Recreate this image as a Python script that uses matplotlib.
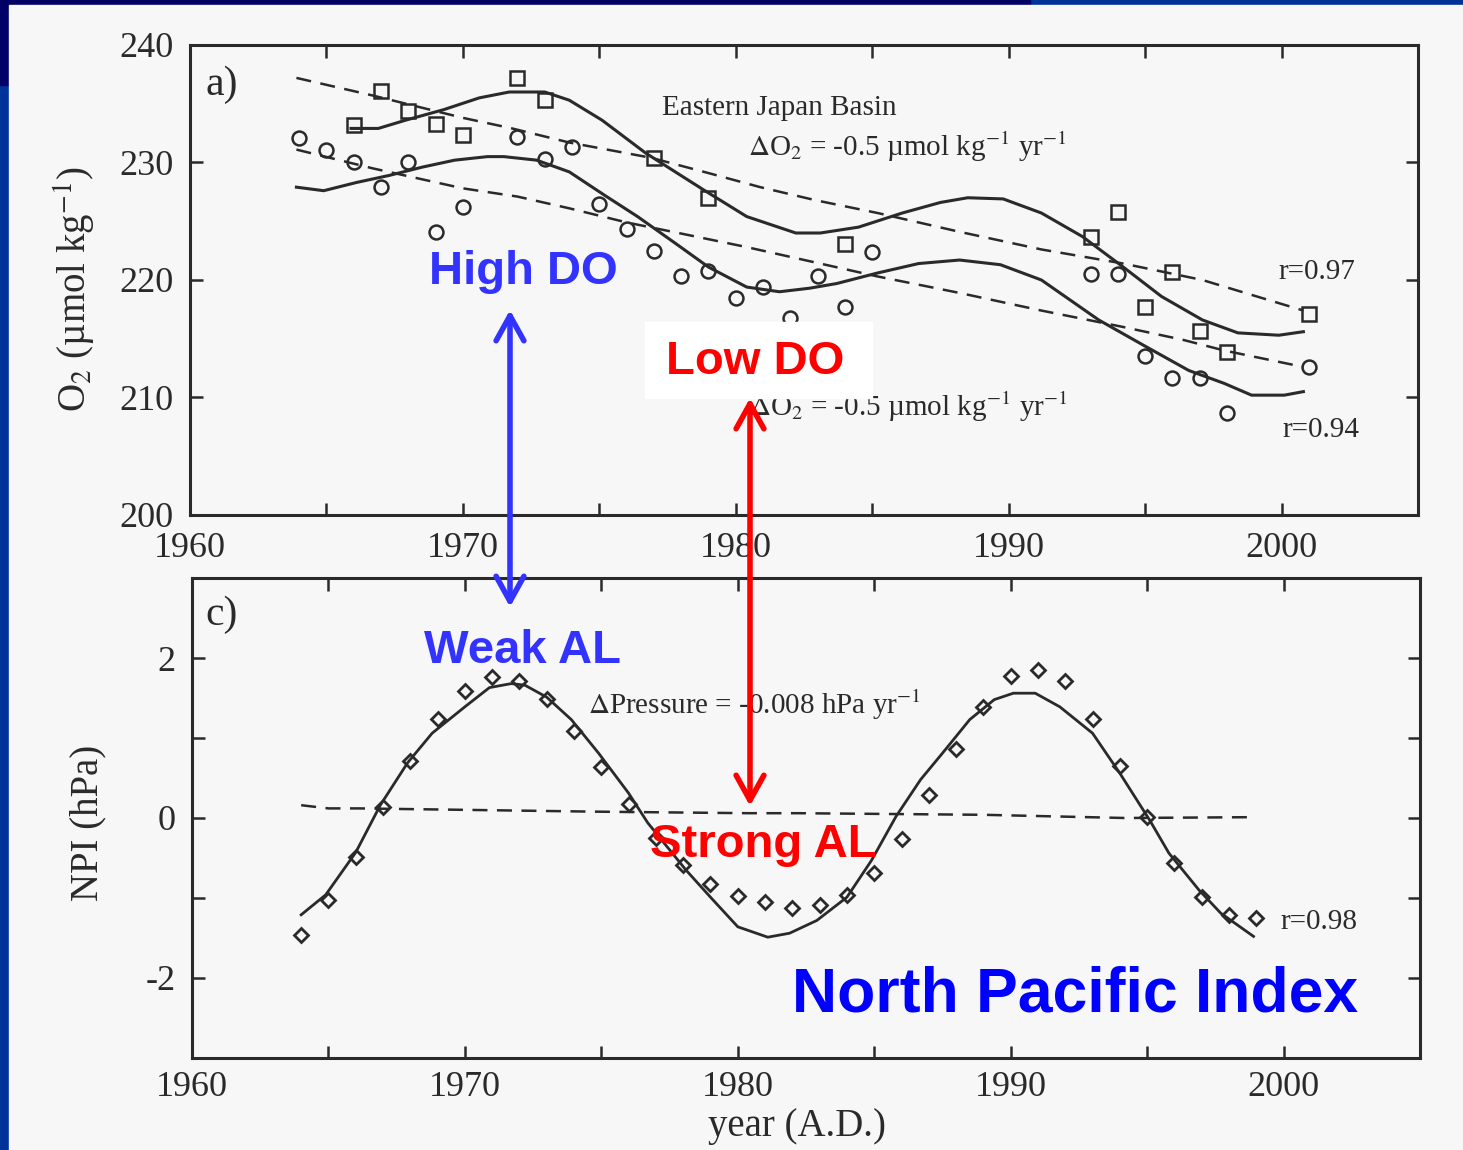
import matplotlib
matplotlib.use("Agg")
from matplotlib import pyplot as plt
from matplotlib.patches import Rectangle, FancyArrowPatch

W, H = 1463, 1150
INK = "#2a2a2a"
PAPER = "#f7f7f7"

# panel a) Eastern Japan Basin O2 (umol/kg)
sq_years = [1966, 1967, 1968, 1969, 1970, 1972, 1973, 1977, 1979, 1984,
            1993, 1994, 1995, 1996, 1997, 1998, 2001]
sq_o2 = [233.2, 236.1, 234.4, 233.3, 232.3, 237.2, 235.3, 230.4, 227.0, 223.1,
         223.7, 225.8, 217.7, 220.7, 215.7, 213.9, 217.1]

ci_years = [1964, 1965, 1966, 1967, 1968, 1969, 1970, 1972, 1973, 1974, 1975,
            1976, 1977, 1978, 1979, 1980, 1981, 1982, 1983, 1984, 1985, 1993,
            1994, 1995, 1996, 1997, 1998, 2001]
ci_o2 = [232.1, 231.1, 230.0, 227.9, 230.0, 224.1, 226.2, 232.2, 230.3, 231.3,
         226.5, 224.3, 222.5, 220.3, 220.8, 218.5, 219.4, 216.8, 220.3, 217.7,
         222.4, 220.5, 220.5, 213.5, 211.7, 211.7, 208.7, 212.6]

up_fit_x = [1965.9, 1966.9, 1967.9, 1969.3, 1970.6, 1971.7, 1973.0, 1973.9,
            1975.1, 1976.7, 1978.8, 1980.4, 1982.2, 1983.1, 1984.5, 1986.1,
            1987.5, 1988.5, 1989.8, 1991.2, 1992.7, 1994.2, 1995.6, 1997.1,
            1998.4, 1999.9, 2000.8]
up_fit_y = [232.9, 232.9, 233.6, 234.5, 235.5, 236.0, 236.0, 235.3, 233.6,
            230.8, 227.7, 225.4, 224.0, 224.0, 224.5, 225.7, 226.6, 227.0,
            226.9, 225.7, 223.7, 221.1, 218.6, 216.6, 215.5, 215.3, 215.6]

lo_fit_x = [1963.9, 1964.9, 1966.1, 1967.3, 1968.5, 1969.7, 1970.9, 1971.5,
            1972.7, 1973.9, 1975.2, 1976.4, 1977.8, 1979.0, 1980.4, 1981.6,
            1982.7, 1983.7, 1985.2, 1986.7, 1988.2, 1989.7, 1991.2, 1993.3,
            1994.9, 1996.6, 1997.9, 1998.9, 2000.1, 2000.8]
lo_fit_y = [227.9, 227.6, 228.3, 228.9, 229.6, 230.2, 230.5, 230.5, 230.2,
            229.2, 227.2, 225.4, 223.1, 221.1, 219.4, 219.0, 219.3, 219.7,
            220.6, 221.4, 221.7, 221.3, 220.0, 216.6, 214.5, 212.3, 211.2,
            210.2, 210.2, 210.5]

up_trend_x = [1963.9, 1966.7, 1970.0, 1971.8, 1973.9, 1976.9, 1979.0, 1980.9,
              1982.9, 1985.2, 1988.2, 1991.2, 1994.2, 1997.1, 2000.8]
up_trend_y = [237.2, 235.7, 233.8, 232.9, 231.7, 230.4, 229.1, 227.9, 226.8,
              225.7, 224.1, 222.6, 221.4, 220.0, 217.4]

lo_trend_x = [1963.9, 1966.7, 1970.0, 1972.0, 1973.9, 1976.0, 1977.9, 1980.4,
              1982.9, 1985.2, 1988.2, 1991.2, 1994.2, 1996.4, 1997.9, 2000.8]
lo_trend_y = [231.1, 229.5, 227.8, 227.1, 226.1, 224.9, 224.0, 222.8, 221.5,
              220.3, 218.9, 217.4, 216.0, 214.9, 214.0, 212.6]

# panel c) North Pacific Index (hPa)
npi_years = list(range(1964, 2000))
npi = [-1.46, -1.03, -0.49, 0.14, 0.71, 1.24, 1.59, 1.76, 1.71, 1.49, 1.09,
       0.64, 0.18, -0.25, -0.59, -0.83, -0.98, -1.05, -1.13, -1.09, -0.96,
       -0.69, -0.26, 0.29, 0.86, 1.39, 1.78, 1.85, 1.71, 1.24, 0.65, 0.01,
       -0.56, -0.99, -1.21, -1.25]

npi_fit_x = [1964.0, 1964.9, 1966.0, 1966.9, 1967.9, 1968.8, 1970.0, 1970.9,
             1971.7, 1972.2, 1973.0, 1973.9, 1974.9, 1976.0, 1976.7, 1978.1,
             1979.0, 1980.0, 1981.1, 1981.9, 1982.9, 1984.0, 1984.9, 1985.8,
             1986.7, 1987.5, 1988.5, 1989.4, 1990.1, 1990.9, 1991.8, 1993.0,
             1994.0, 1995.1, 1995.8, 1996.9, 1997.7, 1998.9]
npi_fit_y = [-1.21, -0.96, -0.43, 0.16, 0.69, 1.06, 1.39, 1.63, 1.68, 1.66,
             1.51, 1.23, 0.81, 0.31, -0.06, -0.65, -0.99, -1.36, -1.49, -1.44,
             -1.28, -0.99, -0.53, 0.02, 0.48, 0.81, 1.23, 1.48, 1.56, 1.56,
             1.39, 1.06, 0.56, -0.03, -0.44, -0.90, -1.19, -1.48]

npi_trend_x = [1964.0, 1965.0, 1966.1, 1970.4, 1974.6, 1980.4, 1982.2, 1989.0,
               1994.2, 1998.7]
npi_trend_y = [0.16, 0.12, 0.12, 0.10, 0.08, 0.06, 0.06, 0.04, 0.0, 0.01]

year_ticks = list(range(1960, 2006, 5))
year_labels = [str(y) if y % 10 == 0 else "" for y in year_ticks]

plt.rcParams["font.family"] = ["Liberation Serif", "DejaVu Serif"]
plt.rcParams["mathtext.fontset"] = "stix"

fig = plt.figure(figsize=(W / 100, H / 100), dpi=100)
fig.patch.set_facecolor("#003399")


def px(x, y):
    return x / W, 1 - y / H


# slide frame
fig.add_artist(Rectangle((0, 1 - 5 / H), 1030 / W, 5 / H, transform=fig.transFigure,
                         color="#000066", zorder=-3))
fig.add_artist(Rectangle((0, 1 - 85 / H), 9 / W, 85 / H, transform=fig.transFigure,
                         color="#000066", zorder=-3))
fig.add_artist(Rectangle(px(9, H), (W - 9) / W, (H - 5) / H, transform=fig.transFigure,
                         color=PAPER, zorder=-2))

ax1 = fig.add_axes([190 / W, 1 - 515 / H, 1228 / W, 470 / H])
ax2 = fig.add_axes([192 / W, 1 - 1058 / H, 1228 / W, 480 / H])

dash = (0, (6, 3.8))
mk = dict(linestyle="none", mfc="none", mec=INK, ms=10, mew=1.8)

ax1.plot(up_trend_x, up_trend_y, color=INK, lw=1.8, linestyle=dash)
ax1.plot(lo_trend_x, lo_trend_y, color=INK, lw=1.8, linestyle=dash)
ax1.plot(up_fit_x, up_fit_y, color=INK, lw=2.2)
ax1.plot(lo_fit_x, lo_fit_y, color=INK, lw=2.2)
ax1.plot(sq_years, sq_o2, marker="s", **mk)
ax1.plot(ci_years, ci_o2, marker="o", **mk)

ax2.plot(npi_trend_x, npi_trend_y, color=INK, lw=1.8, linestyle=dash)
ax2.plot(npi_fit_x, npi_fit_y, color=INK, lw=2.0)
ax2.plot(npi_years, npi, marker="D", linestyle="none", mfc="none", mec=INK,
         ms=7.5, mew=2.0)

for ax in (ax1, ax2):
    ax.set_facecolor(PAPER)
    ax.set_xlim(1960, 2005)
    ax.set_xticks(year_ticks)
    ax.set_xticklabels(year_labels)
    for s in ax.spines.values():
        s.set_linewidth(2.2)
        s.set_color(INK)
    ax.tick_params(direction="in", length=9, width=1.8, color=INK,
                   labelsize=26, labelcolor=INK, top=True, right=True, pad=12)
ax2.tick_params(axis="x", pad=9)

ax1.set_ylim(200, 240)
ax1.set_yticks([200, 210, 220, 230, 240])
ax2.set_ylim(-3, 3)
ax2.set_yticks([-3, -2, -1, 0, 1, 2, 3])
ax2.set_yticklabels(["", "-2", "", "0", "", "2", ""])

ax1.set_ylabel("O$_2$ (µmol kg$^{-1}$)", fontsize=28, color=INK)
ax1.yaxis.label.set_verticalalignment("center")
ax1.yaxis.set_label_coords(-0.094, 0.48)
ax2.set_ylabel("NPI (hPa)", fontsize=28, color=INK)
ax2.yaxis.label.set_verticalalignment("center")
ax2.yaxis.set_label_coords(-0.085, 0.49)
ax2.set_xlabel("year (A.D.)", fontsize=28, color=INK)
ax2.xaxis.label.set_verticalalignment("center")
ax2.xaxis.set_label_coords(0.493, -0.142)

tk = dict(color=INK, fontsize=21, va="center", ha="left")
rate = "$\\Delta$O$_2$ = -0.5 µmol kg$^{-1}$ yr$^{-1}$"
ax1.text(1960.55, 236.6, "a)", color=INK, fontsize=30, va="center")
ax1.text(1977.3, 234.6, "Eastern Japan Basin", **tk)
ax1.text(1980.45, 231.3, rate, **tk)
ax1.text(1980.5, 209.2, rate, **tk)
ax1.text(1999.9, 220.7, "r=0.97", **tk)
ax1.text(2000.05, 207.2, "r=0.94", **tk)

ax2.text(1960.5, 2.54, "c)", color=INK, fontsize=30, va="center")
ax2.text(1974.5, 1.42, r"$\Delta$Pressure = -0.008 hPa yr$^{-1}$", **tk)
ax2.text(1999.9, -1.3, "r=0.98", **tk)

# slide annotations
BLUE = "#3333ff"
RED = "#ff0000"
fig.add_artist(Rectangle(px(645, 398), 227 / W, 76 / H, transform=fig.transFigure,
                         color="white", zorder=2))
ann = dict(family=["Liberation Sans", "DejaVu Sans"], weight="bold",
           ha="center", va="center", zorder=3)
fig.text(*px(523, 272), "High DO", color=BLUE, fontsize=34, **ann)
fig.text(*px(755, 362), "Low DO", color=RED, fontsize=34, **ann)
fig.text(*px(522, 651), "Weak AL", color=BLUE, fontsize=34, **ann)
fig.text(*px(763, 845), "Strong AL", color=RED, fontsize=34, **ann)
fig.text(*px(1075, 995), "North Pacific Index", color="#0000ff", fontsize=45, **ann)

for x, y1, y2, c in [(510, 310, 607, BLUE), (750, 398, 806, RED)]:
    fig.add_artist(FancyArrowPatch(px(x, y1), px(x, y2), transform=fig.transFigure,
                                   arrowstyle="<->,head_length=0.9,head_width=0.5",
                                   mutation_scale=20, lw=4, color=c, zorder=4,
                                   shrinkA=0, shrinkB=0))

fig.savefig("out.png", dpi=100, facecolor=fig.get_facecolor())
